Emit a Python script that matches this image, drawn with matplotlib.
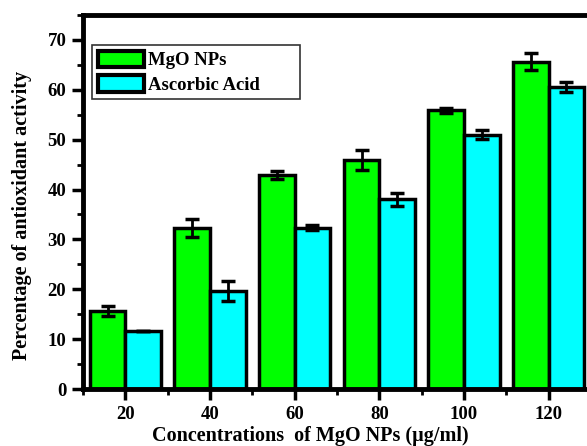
import numpy as np
import matplotlib
matplotlib.use('Agg')
import matplotlib.pyplot as plt
from matplotlib.ticker import MultipleLocator

plt.rcParams['font.family'] = ['Liberation Serif', 'DejaVu Serif']
plt.rcParams['font.weight'] = 'bold'

# concentrations (ug/ml)
conc = [20, 40, 60, 80, 100, 120]
# antioxidant activity (%)
mgo = [15.7, 32.2, 43.0, 45.9, 55.9, 65.6]
mgo_err = [1.0, 1.8, 0.8, 2.0, 0.5, 1.7]
asc = [11.6, 19.6, 32.3, 38.0, 51.0, 60.6]
asc_err = [0.0, 2.0, 0.5, 1.3, 0.9, 1.0]

fig = plt.figure(figsize=(5.87, 4.46), dpi=100)
ax = fig.add_axes([0.1414, 0.1278, 0.8654, 0.8386])

x = np.array(conc)
w = 8.4
ekw = dict(elinewidth=2, capsize=5, capthick=2.5, ecolor='black')
ax.bar(x - w / 2, mgo, w, yerr=mgo_err, color='#00ff00', edgecolor='black',
       linewidth=2.5, label='MgO NPs', error_kw=ekw, zorder=2)
ax.bar(x + w / 2, asc, w, yerr=asc_err, color='#00ffff', edgecolor='black',
       linewidth=2.5, label='Ascorbic Acid', error_kw=ekw, zorder=2)

ax.set_xlim(10, 130)
ax.set_ylim(0, 75)
ax.set_xticks(conc)
ax.xaxis.set_minor_locator(MultipleLocator(10))
ax.yaxis.set_major_locator(MultipleLocator(10))
ax.yaxis.set_minor_locator(MultipleLocator(5))
ax.tick_params(axis='both', which='major', direction='out', length=8, width=2.5,
               labelsize=13.5, pad=4)
ax.tick_params(axis='both', which='minor', direction='out', length=4, width=2)
for s in ax.spines.values():
    s.set_linewidth(3.5)

ax.set_xlabel('Concentrations  of MgO NPs (\u00b5g/ml)', fontsize=14.5,
              fontweight='bold')
ax.xaxis.set_label_coords(0.447, -0.1)
ax.set_ylabel('Percentage of antioxidant activity', fontsize=14.5,
              fontweight='bold')
ax.yaxis.set_label_coords(-0.1, 0.465)

leg = ax.legend(loc='upper left', bbox_to_anchor=(0.0177, 0.77, 0.409, 0.15),
                mode='expand', fontsize=13.5, frameon=True, fancybox=False,
                handlelength=2.5, handleheight=1.0, borderpad=0.3,
                labelspacing=0.3, handletextpad=0.2, borderaxespad=0)
leg.get_frame().set_edgecolor('black')
leg.get_frame().set_linewidth(1.2)
for t in leg.get_texts():
    t.set_fontweight('bold')
for p in leg.get_patches():
    p.set_linewidth(3)

fig.savefig('out.png', dpi=100)
